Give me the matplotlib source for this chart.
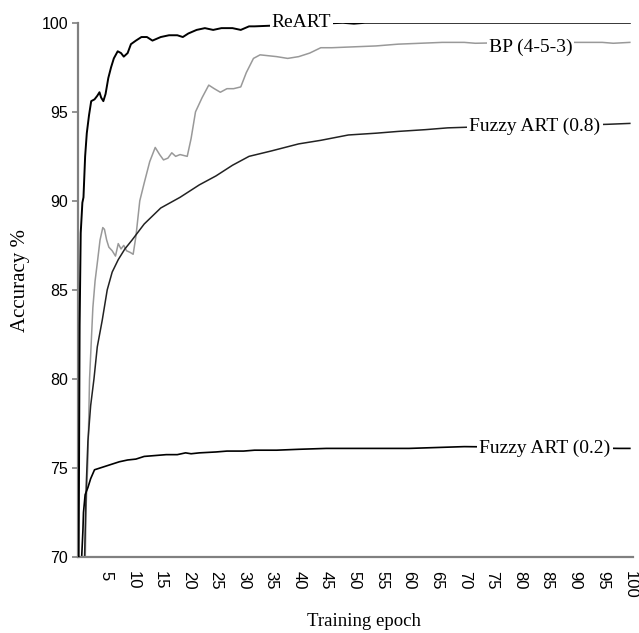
import matplotlib
matplotlib.use("Agg")
import matplotlib.pyplot as plt
import numpy as np

# ------------------------------------------------------------
# Data (accuracy % vs training epoch)
# ------------------------------------------------------------
reart_x = [0.1, 0.3, 0.5, 0.8, 1.0, 1.3, 1.6, 2.0, 2.4, 3.0, 3.5, 3.9, 4.2, 4.6,
           5.0, 5.5, 6.0, 6.5, 7.2, 7.8, 8.3, 9.0, 9.6, 10.5, 11.5, 12.5, 13.5,
           15, 16.5, 18, 19, 20, 21.5, 23, 24.5, 26, 28, 29.5, 31, 32, 40, 48,
           50, 52, 60, 70, 80, 90, 100]
reart_y = [68.0, 83.0, 88.2, 89.9, 90.2, 92.5, 93.8, 94.8, 95.6, 95.7, 95.9,
           96.1, 95.8, 95.6, 96.0, 96.9, 97.5, 98.0, 98.4, 98.3, 98.1, 98.3,
           98.8, 99.0, 99.2, 99.2, 99.0, 99.2, 99.3, 99.3, 99.2, 99.4, 99.6,
           99.7, 99.6, 99.7, 99.7, 99.6, 99.8, 99.8, 99.9, 100.0, 99.95, 100.0,
           100.0, 100.0, 100.0, 100.0, 100.0]

bp_x = [1.3, 1.5, 1.8, 2.1, 2.4, 2.7, 3.1, 3.5, 4.0, 4.5, 4.8, 5.2, 5.6, 6.2,
        6.8, 7.3, 7.8, 8.3, 8.8, 9.5, 10.0, 10.5, 11.2, 12, 13, 14, 14.8, 15.5,
        16.3, 17, 17.7, 18.5, 19.8, 20.5, 21.3, 22.5, 23.7, 24.7, 25.8, 27,
        28.2, 29.5, 30.5, 31.8, 33, 36, 38, 40, 42, 44, 46, 50, 54, 58, 62, 66,
        70, 72, 80, 92, 95, 97, 100]
bp_y = [69.5, 73.0, 75.5, 80.0, 82.0, 84.0, 85.5, 86.5, 87.8, 88.5, 88.4, 87.8,
        87.4, 87.2, 86.9, 87.6, 87.3, 87.5, 87.2, 87.1, 87.0, 88.0, 90.0, 91.0,
        92.2, 93.0, 92.6, 92.3, 92.4, 92.7, 92.5, 92.6, 92.5, 93.5, 95.0, 95.8,
        96.5, 96.3, 96.1, 96.3, 96.3, 96.4, 97.2, 98.0, 98.2, 98.1, 98.0, 98.1,
        98.3, 98.6, 98.6, 98.65, 98.7, 98.8, 98.85, 98.9, 98.9, 98.85, 98.9,
        98.9, 98.9, 98.85, 98.9]

fa08_x = [1.2, 1.5, 1.8, 2.3, 2.9, 3.5, 4.4, 5.3, 6.2, 7.3, 8.5, 9.8, 12, 15,
          18.5, 22, 25, 28, 31, 35, 40, 44, 49, 54, 58, 63, 67, 72, 85, 96, 100]
fa08_y = [70.0, 74.0, 76.5, 78.5, 80.0, 81.8, 83.3, 85.0, 86.0, 86.7, 87.3,
          87.8, 88.7, 89.6, 90.2, 90.9, 91.4, 92.0, 92.5, 92.8, 93.2, 93.4,
          93.7, 93.8, 93.9, 94.0, 94.1, 94.15, 94.2, 94.3, 94.35]

fa02_x = [0.6, 0.9, 1.0, 1.3, 1.8, 2.3, 3.0, 4.0, 5, 6, 7.5, 9, 10.5, 12, 14,
          16, 18, 19.5, 20.5, 22, 25, 27, 30, 32, 36, 40, 45, 50, 55, 60, 65,
          70, 85, 98, 100]
fa02_y = [69.5, 71.5, 72.5, 73.5, 73.9, 74.4, 74.9, 75.0, 75.1, 75.2, 75.35,
          75.45, 75.5, 75.65, 75.7, 75.75, 75.75, 75.85, 75.8, 75.85, 75.9,
          75.95, 75.95, 76.0, 76.0, 76.05, 76.1, 76.1, 76.1, 76.1, 76.15, 76.2,
          76.15, 76.1, 76.1]

x_ticks = list(range(5, 101, 5))
y_ticks = [70, 75, 80, 85, 90, 95, 100]

# ------------------------------------------------------------
# Figure
# ------------------------------------------------------------
fig = plt.figure(figsize=(6.39, 6.33), dpi=100)
ax = fig.add_axes([0.122, 0.120, 0.868, 0.844])

ax.plot(reart_x, reart_y, color="black", lw=1.4, zorder=3)
ax.plot(bp_x, bp_y, color="#999999", lw=1.1, zorder=2)
ax.plot(fa08_x, fa08_y, color="#222222", lw=1.1, zorder=2)
ax.plot(fa02_x, fa02_y, color="black", lw=1.2, zorder=2)

serif = ["Liberation Serif", "DejaVu Serif"]
box = dict(facecolor="white", edgecolor="none", pad=1.5)
labels = [("ReART", 40.5, 100.0), ("BP (4-5-3)", 82.0, 98.6),
          ("Fuzzy ART (0.8)", 82.8, 94.2), ("Fuzzy ART (0.2)", 84.6, 76.1)]
for txt, lx, ly in labels:
    ax.text(lx, ly, txt, family=serif, fontsize=14, ha="center", va="center",
            bbox=box, zorder=5)

ax.set_xlim(0, 100.5)
ax.set_ylim(70, 100)
ax.set_xticks(x_ticks)
ax.set_xticklabels([str(t) for t in x_ticks], rotation=-90,
                   family="Liberation Sans", fontsize=12)
ax.set_yticks(y_ticks)
ax.set_yticklabels([str(t) for t in y_ticks], family="Liberation Sans",
                   fontsize=11.5)
ax.tick_params(axis="x", length=0, pad=10)
ax.tick_params(axis="y", length=4, width=1.2, color="#808080", pad=3)

for s in ["top", "right"]:
    ax.spines[s].set_visible(False)
for s in ["left", "bottom"]:
    ax.spines[s].set_color("#808080")
    ax.spines[s].set_linewidth(1.6)

# axis titles placed where they sit in the original
fig.text(21 / 639, 1 - 281 / 633, "Accuracy %", family=serif, fontsize=15,
         rotation=90, ha="center", va="center")
fig.text(364 / 639, 1 - 621 / 633, "Training epoch", family=serif,
         fontsize=13.5, ha="center", va="center")

fig.savefig("out.png", dpi=100)
